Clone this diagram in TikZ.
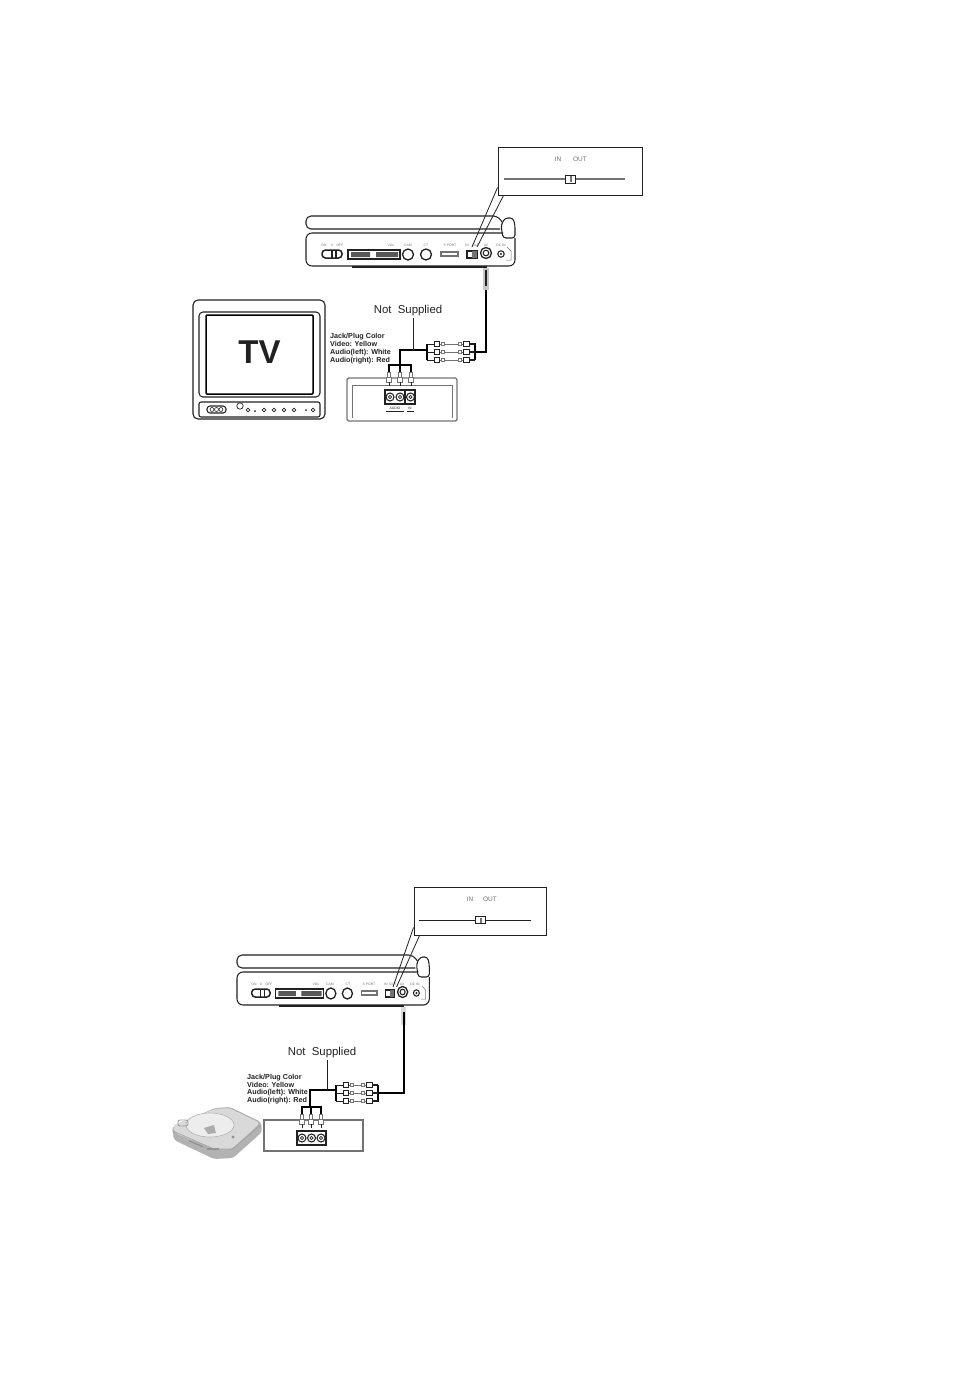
\documentclass[tikz,border=0pt]{standalone}
\usepackage{fontspec}
\setmainfont{Liberation Sans}
\usetikzlibrary{calc}
\definecolor{ink}{gray}{0.13}
\definecolor{mid}{gray}{0.45}
\tikzset{
  outline/.style={draw=ink,line width=1.05pt},
  greyline/.style={draw=mid,line width=1.1pt},
  cable/.style={draw=black,line width=2.2pt},
  thincable/.style={draw=black,line width=1.4pt},
  leader/.style={draw=ink,line width=.8pt},
  tinylab/.style={inner sep=0pt,text=mid,font=\fontsize{3.4}{4}\selectfont},
  inoutlab/.style={inner sep=0pt,text=mid,font=\fontsize{6.5}{7}\selectfont},
  notsup/.style={inner sep=0pt,text=ink,font=\fontsize{11.4}{12}\selectfont},
  jackblock/.style={inner sep=0pt,align=left,anchor=north west,text=ink,font=\bfseries\fontsize{7.2}{7.75}\selectfont},
  callout/.style={draw=ink,fill=white,line width=.9pt,inner sep=0pt,minimum width=#1,minimum height=48pt},
}
% player drawn in the coordinates of the upper one
\newcommand{\playerbody}{%
  \draw[outline,rounded corners=5pt] (500,229) -- (306,229) -- (306,216) -- (498,216) -- (502,222);
  \draw[outline,fill=white,rounded corners=3pt] (503,238) -- (501,225) -- (505,218) -- (513,218) -- (515,225) -- (515,238) -- cycle;
  \draw[outline,rounded corners=6pt] (515,238) -- (515,266) -- (306,266) -- (306,233) -- (503,233);
  \draw[draw=ink,line width=1.8pt] (352,267) -- (487,267);
  \draw[outline,line width=1.5pt,rounded corners=3.5pt] (322,250) rectangle (342,258);
  \draw[outline] (332,250) -- (332,258) (336,250) -- (336,258);
  \draw[outline] (348,250) rectangle (400,259);
  \fill[ink!75] (351,252) rectangle (370,257) (376,252) rectangle (398,257);
  \draw[outline,line width=1.3pt] (408,254.5) circle (5.5);
  \draw[outline,line width=1.3pt] (426,254.5) circle (5.5);
  \draw[greyline,line width=1.4pt] (441,252) rectangle (458,256);
  \draw[outline] (467,251) rectangle (477,258);
  \fill[mid] (472,251) rectangle (477,258);
  \draw[outline,line width=1.3pt] (486,253) circle (5.5);
  \draw[outline] (486,253) circle (2.8);
  \draw[outline] (501,254) circle (3.2);
  \fill[ink] (501,254) circle (1.2);
  \draw[greyline,line width=.5pt] (507,247) -- (511,251) -- (511,260) -- (506,260);
}
\newcommand{\vplug}[2]{% x, top y
  \draw[greyline,line width=.9pt,fill=white] (#1-1.5,#2) rectangle (#1+1.5,#2+5);
  \draw[greyline,line width=.9pt,fill=white] (#1-2.8,#2+5) rectangle (#1+2.8,#2+10);
  \draw[ink,line width=.7pt] (#1,#2+10) -- (#1,#2+14);
}
\newcommand{\hrow}[3]{% left x, right x, y
  \draw[mid,line width=.5pt] (#1+12,#3) -- (#2-12,#3);
  \draw[ink,line width=1pt] (#1,#3) -- (#1+7,#3);
  \draw[ink,line width=.7pt,fill=white] (#1+7,#3-2.5) rectangle (#1+12,#3+2.5);
  \draw[mid,line width=.7pt,fill=white] (#1+14,#3-1.2) rectangle (#1+17,#3+1.2);
  \draw[mid,line width=.7pt,fill=white] (#2-17,#3-1.2) rectangle (#2-14,#3+1.2);
  \draw[ink,line width=.7pt,fill=white] (#2-12,#3-2.5) rectangle (#2-6,#3+2.5);
  \draw[ink,line width=1.3pt] (#2-6,#3) -- (#2,#3);
}
\begin{document}
\begin{tikzpicture}[x=1pt,y=-1pt]
\useasboundingbox (0,0) rectangle (954,1382);

%%%%%% upper player
\playerbody
\foreach \n/\t/\x in {a1/ON/324,a2/II/332,a3/OFF/340,a4/VOL/391,a5/CAM/408,a6/CT/426,a7/S PORT/450,a8/IN/467,a9/OUT/476,a10/AV/486,a11/DC IN/501}
  \node[tinylab] (\n) at (\x,245.5) {\t};
\node[callout=144pt] (calloutA) at (570,171) {};
\coordinate (swA) at (472,247);
\draw[leader] ($(calloutA.south west)+(0,-8)$) -- (swA);
\draw[leader] ($(calloutA.south west)+(6,0)$) -- ($(swA)+(5,0)$);
\node[inoutlab] (inA) at (558,159) {IN};
\node[inoutlab] (outA) at (580,159) {OUT};
\coordinate (railAl) at (504,179);
\coordinate (railAr) at (625,179);
\draw[draw=mid,line width=1.3pt] (railAl) -- (railAr);
\node[draw=ink,fill=white,line width=.8pt,minimum width=10pt,minimum height=8pt,inner sep=0pt] (sliderA) at (570,179) {};
\fill[mid] (570,176) rectangle (572,182);

% upper cabling
\fill[gray!45] (483,268) rectangle (489,290);
\draw[ink,line width=1.2pt] (486,270) -- (486,286);
\coordinate (jackA) at (486,290);
\coordinate (bendA) at (486,352);
\coordinate (brAr) at (475,352);
\coordinate (brAl) at (427,350);
\coordinate (teeA) at (400,350);
\coordinate (splitA) at (400,365);
\draw[thincable,line width=1.8pt] (jackA) -- (bendA) -- (brAr);
\draw[cable] (475,343) -- (475,360);
\draw[cable] (427,344) -- (427,360);
\draw[cable] (brAl) -- (teeA) -- (splitA);
\draw[cable] (389,372) -- (389,365) -- (411,365) -- (411,372);
\draw[cable] (400,365) -- (400,372);
\hrow{427}{475}{344}
\hrow{427}{475}{352}
\hrow{427}{475}{360}
\node[notsup] (nsA) at (408,311) {Not\ \ Supplied};
\draw[leader] (413,318) -- (413,350);
\node[jackblock] (jackA1) at (330,333.5) {Jack/Plug Color\\Video: Yellow\\Audio(left): White\\Audio(right): Red};

% upper socket panel
\node[draw=mid,line width=1.4pt,rounded corners=1.5pt,minimum width=110pt,minimum height=43pt,inner sep=0pt] (panelA) at (402,399.5) {};
\draw[greyline,line width=1pt] (352,418) -- (352,385) -- (452,385) -- (452,418);
\foreach \x in {389,400,411} {\vplug{\x}{372}}
\draw[outline,fill=white] (385,390) rectangle (415,404);
\draw[outline] (405,390) -- (405,404);
\foreach \x in {390,400,410.5} {\draw[outline] (\x,397) circle (4); \draw[ink,line width=.7pt] (\x,397) circle (1.6);}
\node[tinylab,text=ink] (panelA1) at (395,408.5) {AUDIO};
\node[tinylab,text=ink] (panelA2) at (410,408.5) {IN};
\draw[ink,line width=.8pt] (386,411) -- (404,411) (407,411) -- (414,411);

%%%%%% TV
\node[draw=ink,line width=1.1pt,rounded corners=5pt,minimum width=132pt,minimum height=119pt,inner sep=0pt] (tvcase) at (259,359.5) {};
\draw[outline,rounded corners=4pt] (199,312) rectangle (320,397);
\draw[draw=black,line width=1.5pt,rounded corners=1pt] (206,315) rectangle (313,394);
\node[inner sep=0pt,text=ink,font=\bfseries\fontsize{33}{33}\selectfont] (tvlabel) at (259.5,352) {TV};
\draw[outline,rounded corners=2pt] (199,402) rectangle (320,417);
\draw[outline,rounded corners=3pt] (207,406) rectangle (226,413);
\foreach \x in {212,216.5,221} {\draw[ink,line width=.6pt] (\x,409.5) circle (2);}
\draw[ink,line width=.7pt] (240,406) circle (3.2);
\foreach \x in {248,264,274,284,294,313} {\draw[ink,line width=.7pt] (\x,410) circle (1.8);}
\fill[ink] (255,411) circle (1) (306,410) circle (1);

%%%%%% lower player
\begin{scope}[shift={(237-0.92*306,955-216)},xscale=.92]
\playerbody
\end{scope}
\foreach \n/\t/\x in {b1/ON/254,b2/II/261,b3/OFF/269,b4/VOL/316,b5/CAM/330,b6/CT/348,b7/S PORT/369,b8/IN/386,b9/OUT/393,b10/AV/402,b11/DC IN/415}
  \node[tinylab] (\n) at (\x,984.5) {\t};
\node[callout=132pt] (calloutB) at (480,911) {};
\coordinate (swB) at (393,987);
\draw[leader] ($(calloutB.south west)+(0,-8)$) -- (swB);
\draw[leader] ($(calloutB.south west)+(6,0)$) -- ($(swB)+(3.5,0)$);
\node[inoutlab] (inB) at (470,899) {IN};
\node[inoutlab] (outB) at (490,899) {OUT};
\coordinate (railBl) at (419,920);
\coordinate (railBr) at (531,920);
\draw[draw=ink,line width=.9pt] (railBl) -- (railBr);
\node[draw=ink,fill=white,line width=.8pt,minimum width=10pt,minimum height=7pt,inner sep=0pt] (sliderB) at (480,920) {};
\fill[mid] (480,917.5) rectangle (482,922.5);

% lower cabling
\fill[gray!30] (401,1007) rectangle (406,1025);
\coordinate (jackB) at (404,1012);
\coordinate (bendB) at (404,1093);
\coordinate (brBr) at (378,1093);
\coordinate (brBl) at (336,1090);
\coordinate (teeB) at (310,1090);
\coordinate (splitB) at (310,1107);
\draw[thincable,line width=1.5pt] (jackB) -- (bendB) -- (brBr);
\draw[cable] (378,1085) -- (378,1102);
\draw[cable] (336,1085) -- (336,1101);
\draw[cable] (brBl) -- (teeB) -- (splitB);
\draw[cable] (302,1114) -- (302,1107) -- (321,1107) -- (321,1114);
\draw[cable] (311,1107) -- (311,1114);
\hrow{336}{378}{1085}
\hrow{336}{378}{1093}
\hrow{336}{378}{1101}
\node[notsup] (nsB) at (322,1053) {Not\ \ Supplied};
\draw[leader] (327,1060) -- (327,1090);
\node[jackblock] (jackB1) at (247,1074) {Jack/Plug Color\\Video: Yellow\\Audio(left): White\\Audio(right): Red};

% lower socket panel
\node[draw=mid,line width=1.3pt,minimum width=99pt,minimum height=31pt,inner sep=0pt] (panelB) at (313.5,1135.5) {};
\foreach \x in {302,311,321} {\vplug{\x}{1114}}
\draw[outline,fill=white] (297,1131) rectangle (326,1145);
\foreach \x in {302,311.5,321} {\draw[outline] (\x,1138) circle (4); \draw[ink,line width=.7pt] (\x,1138) circle (1.6);}

%%%%%% console
\fill[gray!60,rounded corners=3pt] (172,1127) -- (215,1108) -- (230,1107) -- (261,1122) -- (262,1132) -- (233,1158) -- (214,1159) -- (174,1140) -- cycle;
\fill[gray!30,rounded corners=3pt] (173,1125) -- (215,1109) -- (229,1108) -- (260,1123) -- (232,1149) -- (214,1149) -- (175,1133) -- cycle;
\draw[gray!75,line width=.6pt] (173,1131) -- (214,1149) -- (232,1149) -- (261,1125);
\fill[gray!14] (210,1125) ellipse (24 and 12);
\draw[gray!60,line width=.6pt] (210,1125) ellipse (24 and 12);
\fill[gray!65] (204,1128) -- (214,1125) -- (216,1133) -- (208,1134) -- cycle;
\draw[gray!80,line width=.8pt,rounded corners=2pt] (178,1120) rectangle (188,1126);
\fill[gray!85] (233,1137) circle (1.6);
\fill[gray!85] (189,1140) -- (203,1146) -- (203,1147.5) -- (189,1141.5) -- cycle;
\fill[gray!85] (207,1148) -- (219,1148) -- (219,1149.5) -- (207,1149.5) -- cycle;
\end{tikzpicture}
\end{document}
